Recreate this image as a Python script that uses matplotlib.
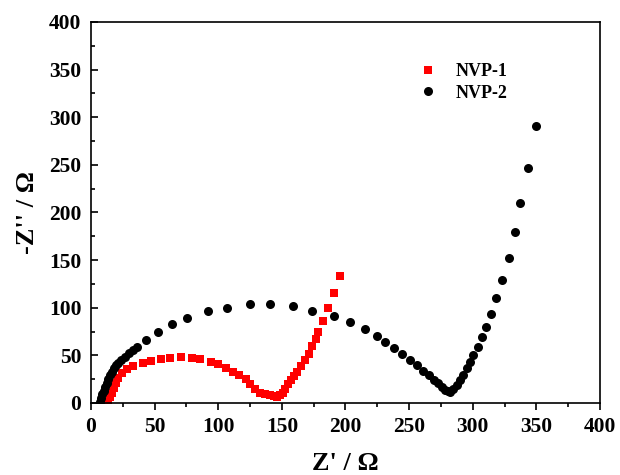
import matplotlib.pyplot as plt
from matplotlib.ticker import MultipleLocator

plt.rcParams['font.family'] = ['Liberation Serif', 'DejaVu Serif']
plt.rcParams['font.weight'] = 'bold'

# NVP-1 (red squares)
nvp1_x = [13.6, 15, 16.5, 18, 19.5, 21.5, 24, 28, 33, 40.5, 47.5, 55, 62, 70.5,
          79, 86, 94, 100, 106, 111.5, 116.5, 121.5, 125, 129, 133, 137, 141,
          144, 146.5, 148.5, 150.5, 152.5, 155, 157.5, 159.5, 162, 165, 168,
          171, 174, 176.5, 178.5, 182, 186.5, 191, 196]
nvp1_y = [1, 6, 11, 16, 20.5, 26, 31, 35.5, 38.5, 41.7, 44.4, 46.5, 47.3, 48,
          47.4, 46, 43.5, 40.5, 37, 33, 29, 25, 20, 14.5, 11, 9.5, 8.5,
          7.5, 6.8, 8, 11, 15, 19.5, 24, 28, 32.5, 38.5, 45,
          51.5, 60, 67, 74.5, 86.3, 100, 115, 133]

# NVP-2 (black circles)
nvp2_x = [7, 8, 9, 10, 11.2, 12.4, 13.7, 15, 16.5, 18, 19.6, 21.2, 23.5, 26.5,
          29.9, 33, 36.1, 42.9, 52.9, 63.9, 75.5, 92, 106.5, 125, 140.5, 158.5,
          174, 191, 203.5, 215.3, 224.5, 231, 238, 244.5, 250.5, 256, 261,
          265.5, 269.5, 273, 276, 278.5, 280.5, 282, 284.7, 287.4, 290, 292.6,
          295.2, 297.8, 300.4, 303.9, 307, 310.4, 314.1, 318.3, 322.7, 328.2,
          333.2, 337.1, 343.7, 349.7]
nvp2_y = [1, 5, 9, 13, 17, 21, 25, 29, 33, 36.5, 39.5, 42, 45, 48.5,
          52, 55.5, 59, 66, 75, 83, 89.6, 96.6, 100, 103.8, 103.8, 101.8,
          97, 91.3, 84.7, 78, 70.3, 64, 57.5, 51, 45, 39.5, 34,
          29, 24.5, 20.5, 17, 14, 12.2, 11.2, 14.4, 19, 24, 29.4,
          36.4, 43.4, 50, 59, 69, 80, 93.4, 110, 129, 152.6,
          179, 210, 247, 291]

fig = plt.figure(figsize=(6.2, 4.75), dpi=100)
ax = fig.add_axes([0.1468, 0.1516, 0.8209, 0.8021])

ax.plot(nvp1_x, nvp1_y, 's', color='#ff0000', markersize=6, markeredgewidth=0,
        label='NVP-1')
ax.plot(nvp2_x, nvp2_y, 'o', color='black', markersize=6.5, markeredgewidth=0,
        label='NVP-2')

ax.set_xlim(0, 400)
ax.set_ylim(0, 400)
ax.xaxis.set_major_locator(MultipleLocator(50))
ax.xaxis.set_minor_locator(MultipleLocator(25))
ax.yaxis.set_major_locator(MultipleLocator(50))
ax.yaxis.set_minor_locator(MultipleLocator(25))

ax.tick_params(axis='x', which='both', direction='out', labelsize=15.5, width=1.2, pad=5)
ax.tick_params(axis='y', which='both', direction='in', labelsize=15.5, width=1.2, pad=7)
ax.tick_params(which='major', length=5)
ax.tick_params(which='minor', length=3)
for lab in ax.get_xticklabels() + ax.get_yticklabels():
    lab.set_fontweight('bold')
for s in ax.spines.values():
    s.set_linewidth(1.2)

ax.set_xlabel("Z' / Ω", fontsize=19, fontweight='bold', labelpad=11)
ax.set_ylabel("-Z'' / Ω", fontsize=19, fontweight='bold', labelpad=7)

ax.legend(loc='upper left', bbox_to_anchor=(0.595, 0.935), frameon=False,
          handletextpad=0.5, labelspacing=0.25,
          prop={'weight': 'bold', 'size': 13})

fig.savefig('out.png', dpi=100)
